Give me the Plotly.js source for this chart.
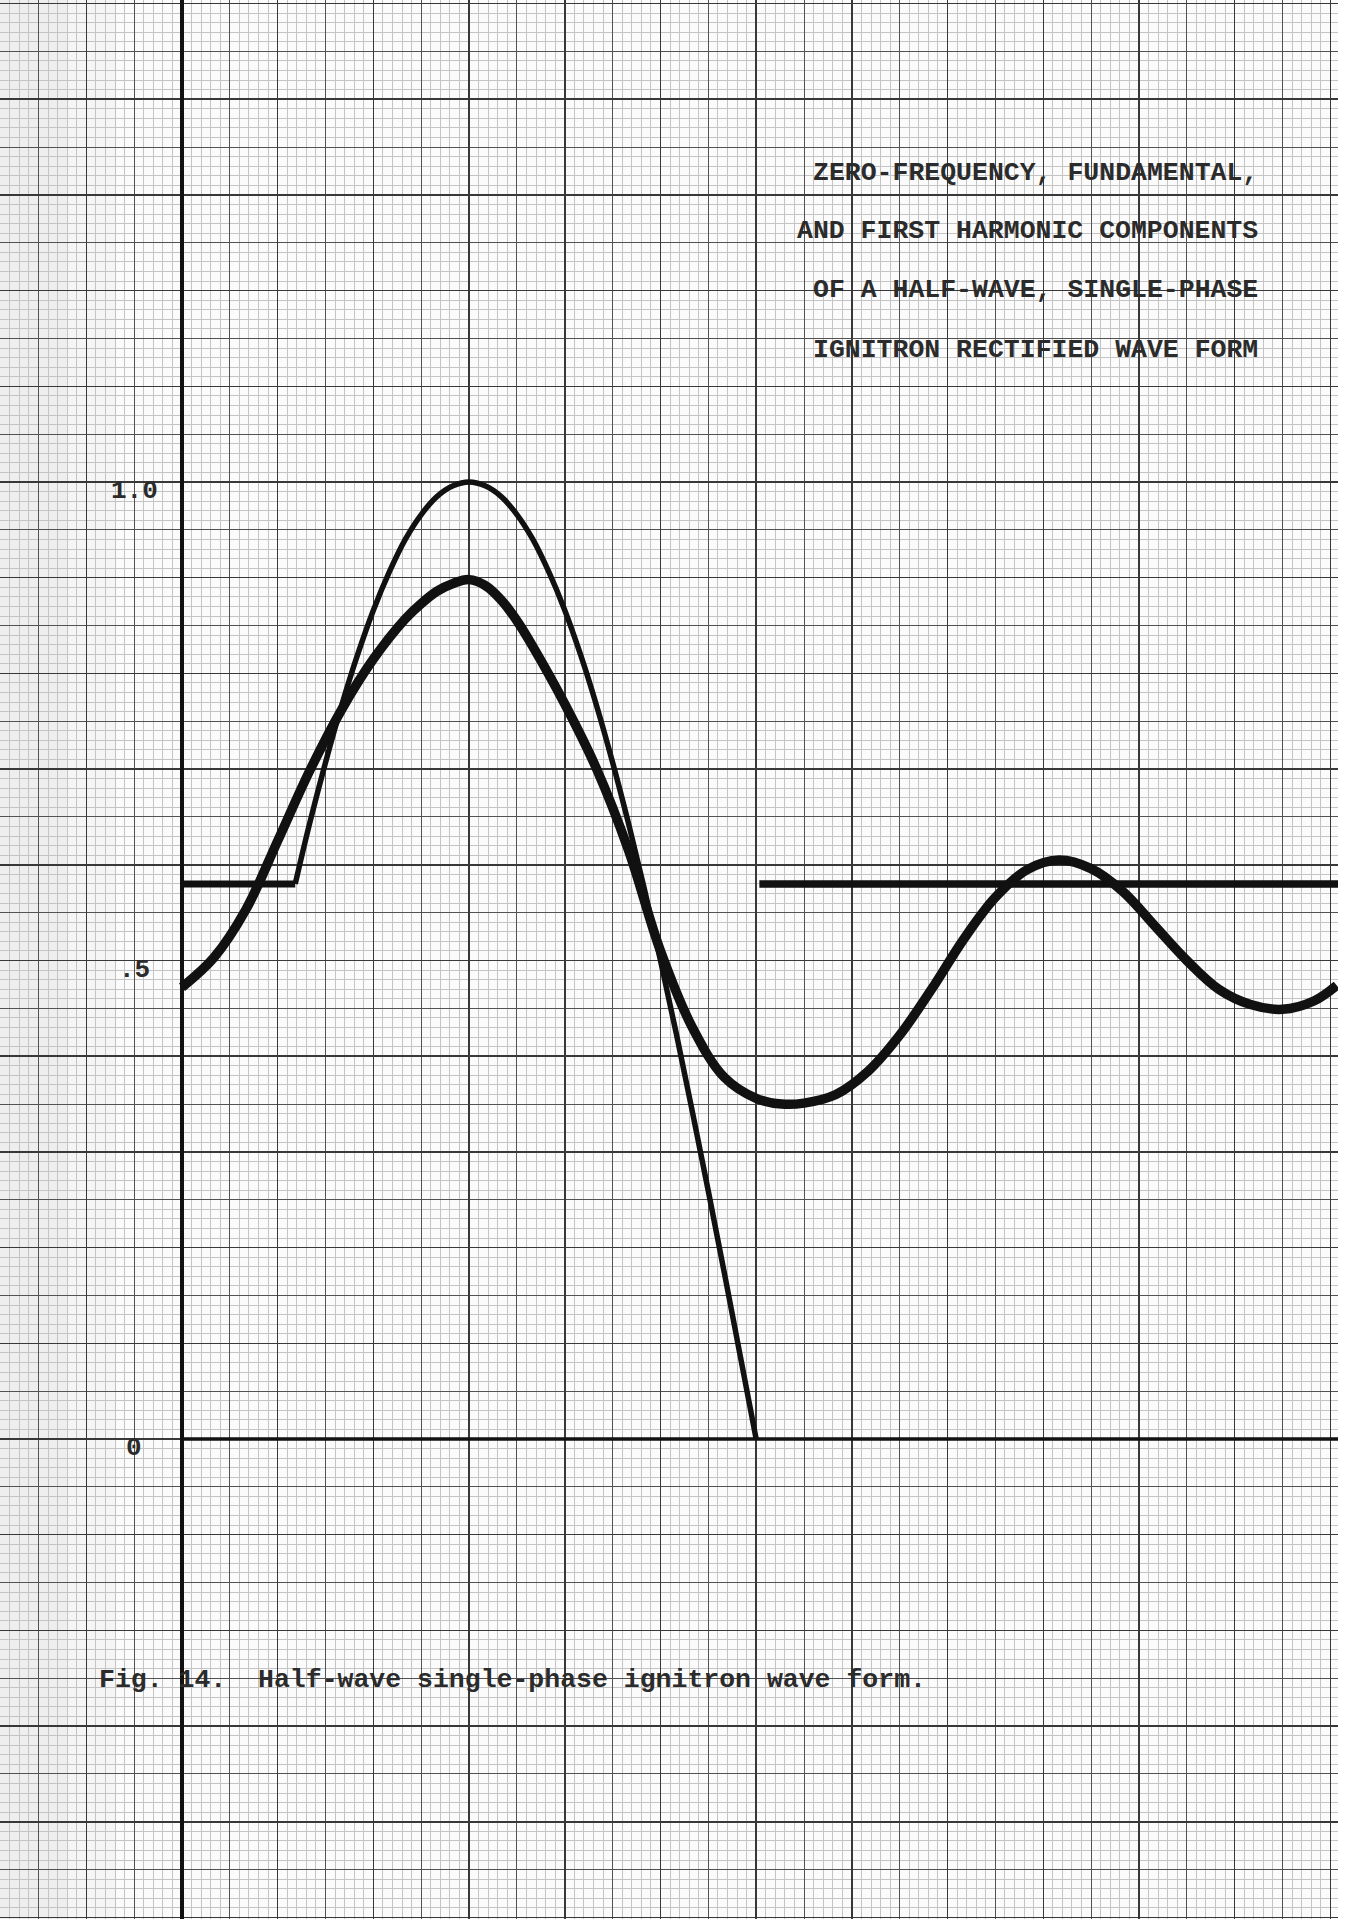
<!DOCTYPE html>
<html><head><meta charset="utf-8">
<script src="https://cdn.plot.ly/plotly-3.0.1.min.js"></script>
<style>html,body{margin:0;padding:0;background:#ffffff;} #chart{width:1349px;height:1919px;}</style>
</head><body><div id="chart"></div>
<script>
// ---- data (angle in electrical degrees, value per unit) ----
const flatAngle = [0, 35.5];
const flatValue = [0.58, 0.58];

const rectAngle = [35.5, 40, 45, 50, 55, 60, 65, 70, 75, 80, 85, 90, 95, 100, 105, 110, 115, 120, 125, 130, 135, 140, 145, 150, 155, 160, 165, 170, 175, 180];
const rectValue = [0.58, 0.643, 0.707, 0.766, 0.819, 0.866, 0.906, 0.94, 0.966, 0.985, 0.996, 1.0, 0.996, 0.985, 0.966, 0.94, 0.906, 0.866, 0.819, 0.766, 0.707, 0.643, 0.574, 0.50, 0.423, 0.342, 0.259, 0.174, 0.087, 0.0];

const zeroFreqAngle = [181, 362.4];
const zeroFreqValue = [0.58, 0.58];

const harmAngle = [0, 10, 20, 30, 40, 50, 60, 70, 75, 80, 85, 90, 95, 100, 105, 110, 120, 130, 140, 150, 160, 170, 180, 188, 195, 205, 215, 225, 235, 245, 255, 265, 275, 285, 295, 305, 315, 325, 335, 345, 355, 362];
const harmValue = [0.472, 0.503, 0.553, 0.625, 0.698, 0.762, 0.815, 0.857, 0.873, 0.886, 0.894, 0.898, 0.892, 0.877, 0.855, 0.828, 0.768, 0.700, 0.615, 0.510, 0.430, 0.378, 0.356, 0.350, 0.351, 0.360, 0.384, 0.422, 0.470, 0.522, 0.566, 0.595, 0.605, 0.596, 0.572, 0.536, 0.500, 0.470, 0.454, 0.449, 0.458, 0.474];

const baseAngle = [0, 362.4];
const baseValue = [0, 0];

const yTickVals = [1.0, 0.5, 0];
const yTickText = ['1.0', '.5', '0'];

const titleLines = [
  'ZERO-FREQUENCY, FUNDAMENTAL,',
  'AND FIRST HARMONIC COMPONENTS',
  'OF A HALF-WAVE, SINGLE-PHASE',
  'IGNITRON RECTIFIED WAVE FORM'
];
const captionText = 'Fig. 14.\u00A0\u00A0Half-wave single-phase ignitron wave form.';

// ---- layout helpers ----
const W = 1349, H = 1919, plotW = 1338;
const xRange = [-57.05, 362.4];
const yRange = [-0.5016, 1.5037];
const ink = '#111111';
const textInk = '#2b2b2b';
const mono = 'Liberation Mono, DejaVu Sans Mono, monospace';

const traces = [
  {x: baseAngle, y: baseValue, mode: 'lines', line: {color: ink, width: 3.5}, hoverinfo: 'skip'},
  {x: flatAngle, y: flatValue, mode: 'lines', line: {color: ink, width: 7}, hoverinfo: 'skip'},
  {x: rectAngle, y: rectValue, mode: 'lines', line: {color: ink, width: 5.5, shape: 'spline', smoothing: 1}, hoverinfo: 'skip'},
  {x: zeroFreqAngle, y: zeroFreqValue, mode: 'lines', line: {color: ink, width: 7.5}, hoverinfo: 'skip'},
  {x: harmAngle, y: harmValue, mode: 'lines', line: {color: ink, width: 9.5, shape: 'spline', smoothing: 1}, hoverinfo: 'skip'},
  {x: [0], y: [0], xaxis: 'x2', yaxis: 'y2', mode: 'markers', marker: {opacity: 0}, hoverinfo: 'skip'}
];

const annotations = [];
yTickVals.forEach((v, i) => {
  annotations.push({x: -15, y: v, xref: 'x', yref: 'y', text: yTickText[i], showarrow: false,
    xanchor: 'center', yanchor: 'middle', yshift: -9, font: {family: mono, size: 26, color: textInk, weight: 'bold'}});
});
const titleY = [173, 231, 290, 350];
titleLines.forEach((t, i) => {
  annotations.push({x: 1260 / plotW, y: 1 - titleY[i] / H, xref: 'paper', yref: 'paper', text: t, showarrow: false,
    xanchor: 'right', yanchor: 'middle', font: {family: mono, size: 26.5, color: textInk, weight: 'bold'}});
});
annotations.push({x: 97 / plotW, y: 1 - 1680 / H, xref: 'paper', yref: 'paper', text: captionText, showarrow: false,
  xanchor: 'left', yanchor: 'middle', font: {family: mono, size: 26.5, color: textInk, weight: 'bold'}});

const layout = {
  width: W, height: H,
  margin: {l: 0, r: W - plotW, t: 0, b: 0, pad: 0},
  paper_bgcolor: '#ffffff',
  plot_bgcolor: '#fbfbfb',
  showlegend: false,
  xaxis: {range: xRange, tick0: 0, dtick: 15, showgrid: true, gridcolor: '#525252', gridwidth: 1,
    zeroline: true, zerolinecolor: ink, zerolinewidth: 3.5, showticklabels: false, ticks: '', showline: false,
    minor: {tick0: 0, dtick: 3, showgrid: true, gridcolor: '#c4c4c4', gridwidth: 1}},
  yaxis: {range: yRange, tick0: 0, dtick: 0.05, showgrid: true, gridcolor: '#525252', gridwidth: 1,
    zeroline: false, showticklabels: false, ticks: '', showline: false,
    minor: {tick0: 0, dtick: 0.01, showgrid: true, gridcolor: '#c4c4c4', gridwidth: 1}},
  xaxis2: {range: xRange, overlaying: 'x', anchor: 'y2', tick0: 0, dtick: 30, showgrid: true, gridcolor: '#383838', gridwidth: 1.5,
    zeroline: false, showticklabels: false, ticks: '', showline: false},
  yaxis2: {range: yRange, overlaying: 'y', anchor: 'x2', tick0: 0, dtick: 0.1, showgrid: true, gridcolor: '#383838', gridwidth: 1.5,
    zeroline: false, showticklabels: false, ticks: '', showline: false},
  shapes: [
    {type: 'rect', xref: 'paper', yref: 'paper', x0: 0, x1: 0.05, y0: 0, y1: 1, fillcolor: '#000000', opacity: 0.05, line: {width: 0}, layer: 'below'},
    {type: 'rect', xref: 'paper', yref: 'paper', x0: 0.05, x1: 0.087, y0: 0, y1: 1, fillcolor: '#000000', opacity: 0.025, line: {width: 0}, layer: 'below'}
  ],
  annotations: annotations
};

Plotly.newPlot('chart', traces, layout, {staticPlot: true, displayModeBar: false});
</script>
</body></html>
